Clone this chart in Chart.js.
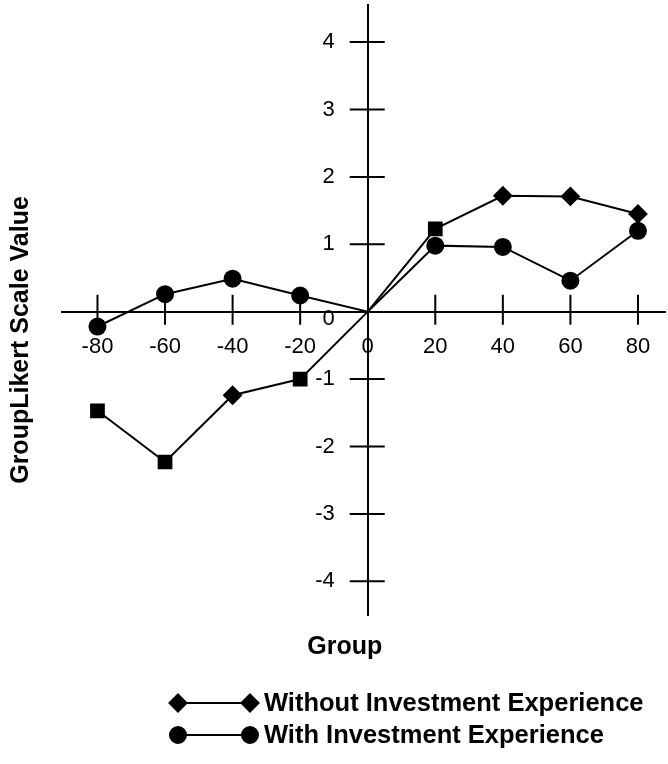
<!DOCTYPE html>
<html>
<head>
<meta charset="utf-8">
<script src="https://cdn.jsdelivr.net/npm/chart.js@4"></script>
<style>
  html, body { margin: 0; padding: 0; background: #fff; }
  #wrap { width: 668px; height: 764px; }
</style>
</head>
<body>
<div id="wrap"><canvas id="chart" width="668" height="764"></canvas></div>
<script>
// values
const groups = [-80, -60, -40, -20, 0, 20, 40, 60, 80];
const withoutExperience = [-1.47, -2.23, -1.24, -1.0, 0, 1.23, 1.72, 1.71, 1.45];
const withExperience = [-0.22, 0.26, 0.49, 0.24, 0, 0.98, 0.96, 0.46, 1.2];
const xTickValues = [-80, -60, -40, -20, 0, 20, 40, 60, 80];
const yTickValues = [-4, -3, -2, -1, 0, 1, 2, 3, 4];
const seriesNames = ['Without Investment Experience', 'With Investment Experience'];

const FAMILY = '"Liberation Sans", Arial, sans-serif';

// the scanned original mixes squares and diamonds on the first series
const withoutStyles = ['rect', 'rect', 'rectRot', 'rect', 'circle', 'rect', 'rectRot', 'rectRot', 'rectRot'];
const withoutRadius = withoutStyles.map((s, i) => groups[i] === 0 ? 0 : (s === 'rect' ? 9 : 8.5));
const withRadius = groups.map(g => g === 0 ? 0 : 8);

// axes sit inside the plot, so they must not eat any layout space
function noSpace(scale) {
    scale.width = scale.isHorizontal() ? scale.width : 0;
    scale.height = scale.isHorizontal() ? 0 : scale.height;
    scale.paddingTop = scale.paddingBottom = scale.paddingLeft = scale.paddingRight = 0;
}

// crossing tick marks, y labels, axis titles and the line-style legend
const decorations = {
    id: 'decorations',
    afterDraw(chart) {
        const ctx = chart.ctx;
        const xs = chart.scales.x, ys = chart.scales.y;
        const x0 = xs.getPixelForValue(0), y0 = ys.getPixelForValue(0);

        ctx.save();
        ctx.strokeStyle = '#000';
        ctx.fillStyle = '#000';
        ctx.lineWidth = 2;
        ctx.beginPath();
        xTickValues.forEach(v => {
            if (v === 0) return;
            const px = xs.getPixelForValue(v);
            ctx.moveTo(px, y0 - 17);
            ctx.lineTo(px, y0 + 13);
        });
        yTickValues.forEach(v => {
            if (v === 0) return;
            const py = ys.getPixelForValue(v);
            ctx.moveTo(x0 - 18, py);
            ctx.lineTo(x0 + 17, py);
        });
        ctx.stroke();

        // y tick labels, left of the axis
        ctx.font = '22px ' + FAMILY;
        ctx.textAlign = 'right';
        ctx.textBaseline = 'middle';
        yTickValues.forEach(v => {
            const py = ys.getPixelForValue(v) + (v === 0 ? 7 : 0);
            ctx.fillText(String(v), x0 - 33, py);
        });

        // axis titles
        ctx.font = 'bold 25px ' + FAMILY;
        ctx.textAlign = 'center';
        ctx.fillText('Group', x0 - 23, 647);

        ctx.save();
        ctx.translate(21, 340);
        ctx.rotate(-Math.PI / 2);
        ctx.fillText('GroupLikert Scale Value', 0, 0);
        ctx.restore();

        // legend
        const rows = [
            { y: 703, style: 'rectRot', r: 8.5 },
            { y: 735, style: 'circle', r: 8 }
        ];
        ctx.font = 'bold 25.5px ' + FAMILY;
        rows.forEach((row, i) => {
            ctx.beginPath();
            ctx.moveTo(178, row.y);
            ctx.lineTo(250, row.y);
            ctx.stroke();
            Chart.helpers.drawPoint(ctx, { pointStyle: row.style, radius: row.r, borderWidth: 1 }, 178, row.y);
            ctx.fill();
            Chart.helpers.drawPoint(ctx, { pointStyle: row.style, radius: row.r, borderWidth: 1 }, 250, row.y);
            ctx.fill();
            ctx.textAlign = 'left';
            ctx.fillText(seriesNames[i], 264, row.y + 1);
        });
        ctx.restore();
    }
};

new Chart(document.getElementById('chart'), {
    type: 'line',
    data: {
        datasets: [
            {
                label: seriesNames[0],
                data: groups.map((g, i) => ({ x: g, y: withoutExperience[i] })),
                borderColor: '#000',
                backgroundColor: '#000',
                borderWidth: 2,
                pointStyle: withoutStyles,
                pointRadius: withoutRadius,
                tension: 0,
                clip: false
            },
            {
                label: seriesNames[1],
                data: groups.map((g, i) => ({ x: g, y: withExperience[i] })),
                borderColor: '#000',
                backgroundColor: '#000',
                borderWidth: 2,
                pointStyle: 'circle',
                pointRadius: withRadius,
                tension: 0,
                clip: false
            }
        ]
    },
    options: {
        responsive: false,
        animation: false,
        layout: { autoPadding: false, padding: { left: 62, right: 3, top: 5, bottom: 149 } },
        plugins: {
            legend: { display: false },
            tooltip: { enabled: false }
        },
        scales: {
            x: {
                type: 'linear',
                min: -90.5,
                max: 88,
                position: { y: 0 },
                grid: { display: false, drawTicks: false },
                border: { display: true, color: '#000', width: 2 },
                ticks: { color: '#000', font: { family: FAMILY, size: 22 }, padding: 22, autoSkip: false, maxRotation: 0 },
                afterBuildTicks: s => { s.ticks = xTickValues.map(v => ({ value: v })); },
                afterFit: noSpace
            },
            y: {
                type: 'linear',
                min: -4.5,
                max: 4.55,
                position: { x: 0 },
                grid: { display: false, drawTicks: false },
                border: { display: true, color: '#000', width: 2 },
                ticks: { display: false },
                afterBuildTicks: s => { s.ticks = yTickValues.map(v => ({ value: v })); },
                afterFit: noSpace
            }
        }
    },
    plugins: [decorations]
});
</script>
</body>
</html>
